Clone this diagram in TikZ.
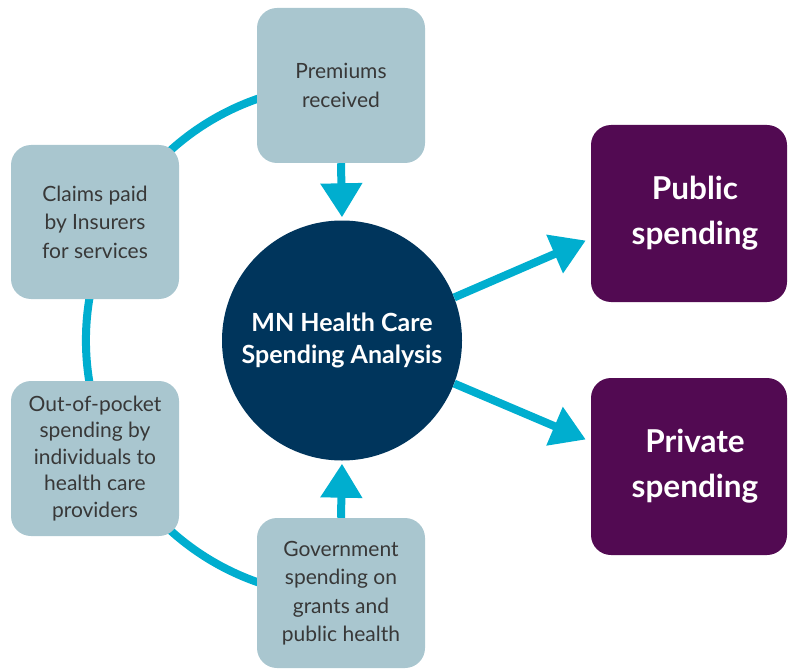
\documentclass[tikz,border=0pt]{standalone}
\usepackage{fontspec}
\setmainfont{Lato}
\usetikzlibrary{arrows.meta}
\definecolor{boxfill}{HTML}{A9C6CF}
\definecolor{cyanline}{HTML}{00AECF}
\definecolor{navy}{HTML}{00355C}
\definecolor{plum}{HTML}{520A52}
\definecolor{boxtext}{HTML}{383838}
\begin{document}
\begin{tikzpicture}[x=1pt,y=-1pt,
  srcbox/.style={fill=boxfill, rounded corners=20pt, minimum width=168pt, minimum height=155pt,
    inner sep=0pt, align=center, text=boxtext, font=\fontsize{21}{28.5}\selectfont},
  outbox/.style={fill=plum, rounded corners=20pt, minimum width=196pt, minimum height=177pt,
    inner sep=0pt, align=center, text=white, font=\fontsize{31.5}{45}\selectfont\bfseries},
  hub/.style={circle, fill=navy, minimum size=240pt, inner sep=0pt, align=center, text=white,
    font=\fontsize{25}{32}\selectfont\bfseries},
  ring/.style={draw=cyanline, line width=8pt},
  flow/.style={draw=cyanline, line width=8pt, -{Triangle[width=40pt,length=34pt]}}]
\useasboundingbox (0,0) rectangle (789,671);
\node[hub] (c) at (342,340.5) {MN Health Care\\Spending Analysis};
% ring behind boxes
\draw[ring] ([shift={(104:256pt)}]c.center) arc[start angle=104, end angle=256, radius=256pt];
\node[srcbox] (prem) at (341,85.5) {Premiums\\received};
\node[srcbox, minimum height=154pt] (claims) at (95,222) {Claims paid\\by Insurers\\for services};
\node[srcbox, font=\fontsize{21}{26.5}\selectfont] (oop) at (95,458.5) {Out-of-pocket\\spending by\\individuals to\\health care\\providers};
\node[srcbox, minimum height=150pt] (gov) at (341,593) {Government\\spending on\\grants and\\public health};
\node[outbox] (pub) at (689,213.5) {\hspace*{12pt}Public\\\hspace*{12pt}spending};
\node[outbox] (priv) at (689,466.5) {\hspace*{12pt}Private\\\hspace*{12pt}spending};
\draw[flow] (prem.south) -- ([yshift=3pt]c.north);
\draw[flow] (gov.north) -- ([yshift=-3pt]c.south);
\draw[flow] (c.21) -- ([xshift=-5pt,yshift=-27pt]pub.west);
\draw[flow] (c.-21) -- ([xshift=-5pt,yshift=27pt]priv.west);
\end{tikzpicture}
\end{document}
